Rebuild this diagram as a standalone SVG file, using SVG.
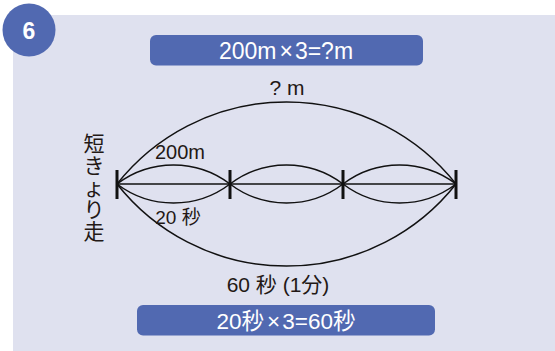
<svg xmlns="http://www.w3.org/2000/svg" width="555" height="351" viewBox="0 0 555 351">
<style>
.t{font-family:"Liberation Sans","Noto Sans CJK JP",sans-serif;fill:#231815}
.w{font-family:"Liberation Sans","Noto Sans CJK JP",sans-serif;fill:#ffffff}
.box{fill:#5169b1}
.ln{fill:none;stroke:#111;stroke-width:1.5}
.tick{stroke:#111;stroke-width:3}
</style>
<rect x="13" y="15" width="542" height="336" fill="#dfe1ef"/>
<g id="badge">
<circle cx="29" cy="30" r="26.5" fill="#5169b1"/>
<text x="29" y="38.5" class="w" font-size="23" font-weight="bold" text-anchor="middle">6</text>
</g>
<g id="top-box">
<rect x="150" y="35" width="273" height="30.5" rx="6" class="box"/>
<text x="286" y="58.5" class="w" font-size="23" text-anchor="middle">200m<tspan dx="3">×</tspan><tspan dx="2">3=?m</tspan></text>
</g>
<g id="bottom-box">
<rect x="137" y="305" width="298" height="30.5" rx="6" class="box"/>
<text x="286" y="329" class="w" font-size="22.5" text-anchor="middle">20秒<tspan dx="3">×</tspan><tspan dx="2">3=60秒</tspan></text>
</g>
<g id="connectors">
<line x1="117" y1="184" x2="456" y2="184" class="ln"/>
<path d="M117 184 A216 216 0 0 1 456 184" class="ln"/>
<path d="M117 184 A216 216 0 0 0 456 184" class="ln"/>
<path d="M117 184 A93.5 93.5 0 0 1 230 184 A93.5 93.5 0 0 1 343 184 A93.5 93.5 0 0 1 456 184" class="ln"/>
<path d="M117 184 A93.5 93.5 0 0 0 230 184 A93.5 93.5 0 0 0 343 184 A93.5 93.5 0 0 0 456 184" class="ln"/>
<line x1="117" y1="170" x2="117" y2="199" class="tick"/>
<line x1="230" y1="170" x2="230" y2="199" class="tick"/>
<line x1="343" y1="170" x2="343" y2="199" class="tick"/>
<line x1="456" y1="170" x2="456" y2="199" class="tick"/>
</g>
<g id="labels">
<text x="287" y="95" class="t" font-size="21" text-anchor="middle">? m</text>
<text x="180" y="159" class="t" font-size="20" text-anchor="middle">200m</text>
<text x="178" y="224" class="t" font-size="19" text-anchor="middle">20 秒</text>
<text x="278" y="292" class="t" font-size="21" text-anchor="middle">60 秒 (1分)</text>
<text class="t" font-size="21" text-anchor="middle"><tspan x="94" y="151">短</tspan><tspan x="94" y="173">き</tspan><tspan x="94" y="195">ょ</tspan><tspan x="94" y="217">り</tspan><tspan x="94" y="239">走</tspan></text>
</g>
</svg>
